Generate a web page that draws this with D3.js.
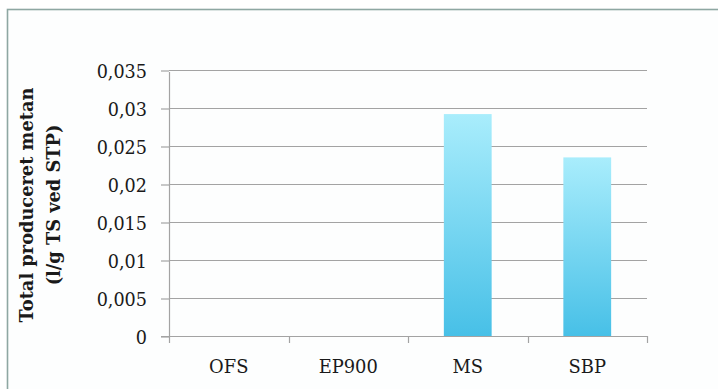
<!DOCTYPE html>
<html>
<head>
<meta charset="utf-8">
<script src="https://cdn.jsdelivr.net/npm/d3@7/dist/d3.min.js"></script>
<style>
  html, body { margin: 0; padding: 0; background: #ffffff; }
  svg { display: block; }
  text { font-family: "DejaVu Serif", serif; fill: #1a1a1a; }
</style>
</head>
<body>
<svg id="chart" width="718" height="389"></svg>
<script>
// Methane production per substrate
const categories = ["OFS", "EP900", "MS", "SBP"];
const methane = [0, 0, 0.0292, 0.0235];
const yTickValues = [0, 0.005, 0.01, 0.015, 0.02, 0.025, 0.03, 0.035];
const yTickLabels = ["0", "0,005", "0,01", "0,015", "0,02", "0,025", "0,03", "0,035"];
const titleLines = ["Total produceret metan", "(l/g TS ved STP)"];

const svg = d3.select("#chart");
const plot = { left: 169, right: 647, top: 70, bottom: 336 };

// Frame around the chart area
svg.append("rect")
  .attr("x", 7.5).attr("y", 9.5)
  .attr("width", 740).attr("height", 420)
  .attr("fill", "#fdfefe")
  .attr("stroke", "#8ea7a2")
  .attr("stroke-width", 1.6);

const x = d3.scaleBand()
  .domain(categories)
  .range([plot.left, plot.right])
  .paddingInner(0.6)
  .paddingOuter(0.3);

const y = d3.scaleLinear()
  .domain([0, 0.035])
  .range([plot.bottom, plot.top]);

// Bar gradient: pale cyan at the top, deeper sky blue at the base
const grad = svg.append("defs").append("linearGradient")
  .attr("id", "barFill")
  .attr("x1", 0).attr("y1", 0).attr("x2", 0).attr("y2", 1);
grad.append("stop").attr("offset", "0%").attr("stop-color", "#a9edfc");
grad.append("stop").attr("offset", "100%").attr("stop-color", "#47c0e7");

// Horizontal gridlines
svg.append("g")
  .selectAll("line")
  .data(yTickValues.slice(1))
  .join("line")
  .attr("x1", plot.left).attr("x2", plot.right)
  .attr("y1", d => Math.round(y(d)) + 0.5)
  .attr("y2", d => Math.round(y(d)) + 0.5)
  .attr("stroke", "#a3a3a3")
  .attr("stroke-width", 1.2);

// Bars
svg.append("g")
  .selectAll("rect")
  .data(categories.map((c, i) => ({ c, v: methane[i] })))
  .join("rect")
  .attr("x", d => x(d.c))
  .attr("y", d => y(d.v))
  .attr("width", x.bandwidth())
  .attr("height", d => y(0) - y(d.v))
  .attr("fill", "url(#barFill)");

// Y axis
const yAxis = d3.axisLeft(y)
  .tickValues(yTickValues)
  .tickFormat((d, i) => yTickLabels[i])
  .tickSize(8)
  .tickPadding(14);

const gy = svg.append("g")
  .attr("transform", `translate(${plot.left},0)`)
  .call(yAxis);
gy.select(".domain").remove();
gy.selectAll(".tick line")
  .attr("stroke", "#a3a3a3")
  .attr("stroke-width", 1.2)
  .attr("transform", "translate(0,0.5)");
gy.selectAll(".tick text")
  .attr("font-family", "DejaVu Serif, serif")
  .attr("font-size", 17.6)
  .attr("fill", "#1a1a1a")
  .attr("dy", "0.42em");

// Y axis line
svg.append("line")
  .attr("x1", plot.left + 0.5).attr("x2", plot.left + 0.5)
  .attr("y1", y(0.035) + 2).attr("y2", y(0))
  .attr("stroke", "#a3a3a3")
  .attr("stroke-width", 1.2);

// X axis labels
const xAxis = d3.axisBottom(x).tickSize(0).tickPadding(24);
const gx = svg.append("g")
  .attr("transform", `translate(0,${plot.bottom})`)
  .call(xAxis);
gx.select(".domain").remove();
gx.selectAll(".tick text")
  .attr("font-family", "DejaVu Serif, serif")
  .attr("font-size", 17.9)
  .attr("fill", "#1a1a1a");

// X axis baseline and category boundary ticks
svg.append("line")
  .attr("x1", plot.left - 8).attr("x2", plot.right)
  .attr("y1", Math.round(y(0)) + 0.5).attr("y2", Math.round(y(0)) + 0.5)
  .attr("stroke", "#a3a3a3")
  .attr("stroke-width", 1.2);

const boundaries = d3.range(categories.length + 1)
  .map(i => x.range()[0] + i * x.step());
svg.append("g")
  .selectAll("line")
  .data(boundaries)
  .join("line")
  .attr("x1", d => Math.round(d) + 0.5).attr("x2", d => Math.round(d) + 0.5)
  .attr("y1", y(0)).attr("y2", y(0) + 7)
  .attr("stroke", "#a3a3a3")
  .attr("stroke-width", 1.2);

// Y axis title, two rotated lines
const title = svg.append("text")
  .attr("transform", `translate(0,205) rotate(-90)`)
  .attr("text-anchor", "middle")
  .attr("font-family", "DejaVu Serif, serif")
  .attr("font-weight", "bold")
  .attr("font-size", 17.8)
  .attr("fill", "#111");
title.selectAll("tspan")
  .data(titleLines)
  .join("tspan")
  .attr("x", 0)
  .attr("y", (d, i) => 33 + i * 27)
  .text(d => d);
</script>
</body>
</html>
